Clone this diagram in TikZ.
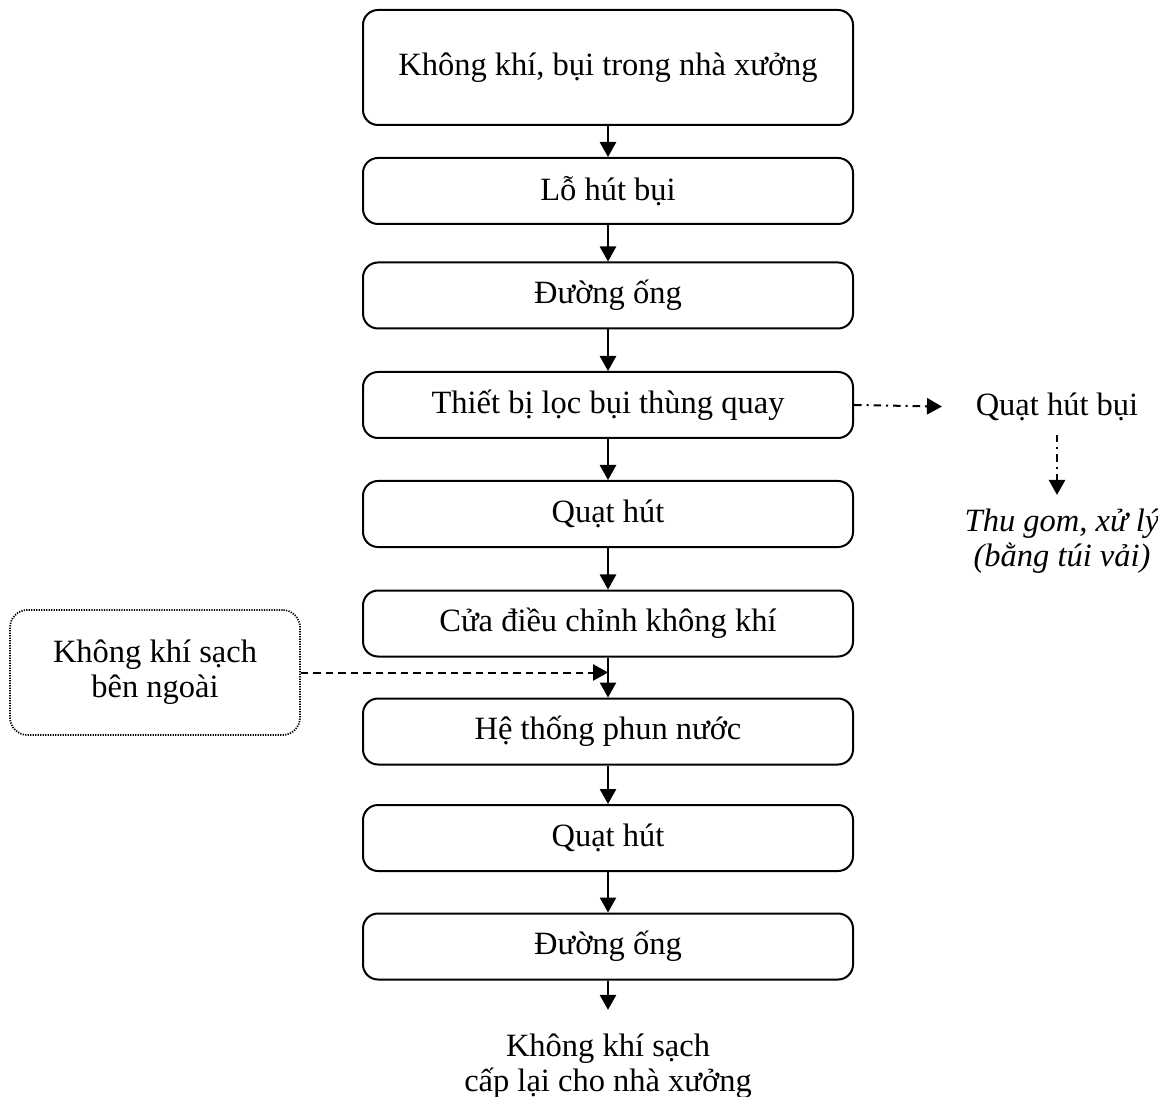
\documentclass[tikz,border=0pt]{standalone}
\usepackage{fontspec}
\setmainfont{Liberation Serif}
\usetikzlibrary{arrows.meta,graphs,calc}
\tikzset{
    >={Triangle[length=6pt,width=6.5pt]},
    procbox/.style={
        draw=black,
        line width=0.8pt,
        rounded corners=6pt,
        minimum width=196pt,
        minimum height=26.4pt,
    },
    bigbox/.style={
        procbox,
        minimum height=46pt,
    },
    outsidebox/.style={
        draw=black,
        line width=0.7pt,
        dash pattern=on 0.5pt off 0.5pt,
        rounded corners=7pt,
        minimum width=116pt,
        minimum height=50pt,
        align=center,
    },
    plain/.style={
        align=center,
    },
    flow/.style={
        ->,
        line width=0.8pt,
    },
    extra/.style={
        ->,
        line width=0.8pt,
        dash pattern=on 3pt off 2pt,
    },
    dustflow/.style={
        ->,
        line width=0.8pt,
        dash pattern=on 3pt off 2pt on 0.8pt off 2pt,
    },
}

\begin{document}
\begin{tikzpicture}[x=0.4pt,y=-0.4pt,font=\fontsize{13}{14}\selectfont]
    \useasboundingbox (0,0) rectangle (1158,1097);

    % main line
    \node[bigbox]  (kk)    at (608,67.5)  {Không khí, bụi trong nhà xưởng};
    \node[procbox] (lo)    at (608,191)   {Lỗ hút bụi};
    \node[procbox] (ong)   at (608,295.5) {Đường ống};
    \node[procbox] (loc)   at (608,405)   {Thiết bị lọc bụi thùng quay};
    \node[procbox] (quat)  at (608,514)   {Quạt hút};
    \node[procbox] (cua)   at (608,623.5) {Cửa điều chỉnh không khí};
    \node[procbox] (phun)  at (608,731.5) {Hệ thống phun nước};
    \node[procbox] (quat2) at (608,838)   {Quạt hút};
    \node[procbox] (ong2)  at (608,946.5) {Đường ống};
    \node[plain]   (ra)    at (608,1066)  {Không khí sạch\\cấp lại cho nhà xưởng};

    % side branches
    \node[outsidebox] (ngoai) at (155,672.5) {Không khí sạch\\bên ngoài};
    \node[plain] (quatbui) at (1057,407) {Quạt hút bụi};
    \node[plain,font=\fontsize{13}{14}\selectfont\itshape] (thugom) at (1062,541)
        {Thu gom, xử lý\\(bằng túi vải)};

    \graph[use existing nodes]{
        kk ->[flow] lo ->[flow] ong ->[flow] loc ->[flow] quat ->[flow]
        cua ->[flow] phun ->[flow] quat2 ->[flow] ong2 ->[flow,shorten >=6pt] ra;
    };

    \draw[extra] (ngoai.east) -- (ngoai.east -| cua.south);
    \draw[dustflow,shorten >=10pt] (loc.east) -- (quatbui.west);
    \draw[dustflow,shorten <=2pt,shorten >=2pt] (quatbui.south) -- (quatbui.south |- thugom.north);
\end{tikzpicture}
\end{document}
